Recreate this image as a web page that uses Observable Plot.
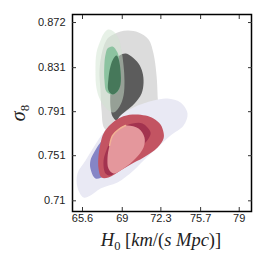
<!DOCTYPE html>
<html><head><meta charset="utf-8">
<script src="https://cdn.jsdelivr.net/npm/d3@7"></script>
<script src="https://cdn.jsdelivr.net/npm/@observablehq/plot@0.6"></script>
<style>body{margin:0;background:#fff}</style>
</head><body><div id="chart"></div>
<script>
// tick labels
const xTicks = [65.6, 69, 72.3, 75.7, 79];
const yTicks = [0.71, 0.751, 0.791, 0.831, 0.872];

// contour outlines [H0, sigma8]
const grayOuter = [[68.25,0.8611],[68.85,0.8638],[69.53,0.8647],[70.39,0.8629],[71.25,0.8566],[71.67,0.8438],[71.93,0.8238],[72.02,0.8057],[72.02,0.7920],[71.42,0.7848],[69.71,0.7784],[68.17,0.7721],[67.48,0.7757],[67.23,0.7920],[67.14,0.8102],[67.05,0.8284],[67.31,0.8466],[67.74,0.8575]];
const lavenderOuter = [[65.69,0.7130],[65.17,0.7221],[65.17,0.7348],[65.86,0.7466],[66.54,0.7584],[67.40,0.7721],[68.59,0.7857],[69.96,0.7948],[71.67,0.8011],[72.87,0.8029],[73.98,0.7993],[74.58,0.7893],[74.24,0.7784],[73.13,0.7693],[72.02,0.7584],[70.82,0.7466],[69.96,0.7375],[68.59,0.7266],[67.14,0.7212],[66.28,0.7148]];
const grayInner = [[69.28,0.8438],[69.79,0.8411],[70.39,0.8347],[70.73,0.8266],[70.82,0.8175],[70.65,0.8075],[70.05,0.7984],[69.36,0.7920],[68.77,0.7866],[68.51,0.7830],[68.17,0.7866],[67.99,0.7957],[67.99,0.8102],[68.08,0.8238],[68.34,0.8357],[68.77,0.8420]];
const greenOuter = [[67.82,0.8656],[68.25,0.8638],[68.68,0.8575],[68.94,0.8466],[69.11,0.8329],[69.19,0.8193],[69.11,0.8057],[68.77,0.7957],[68.25,0.7902],[67.65,0.7939],[67.14,0.8011],[66.80,0.8120],[66.71,0.8284],[66.80,0.8447],[67.14,0.8556],[67.48,0.8629]];
const greenInner = [[67.74,0.8484],[68.17,0.8502],[68.59,0.8447],[68.77,0.8357],[68.85,0.8211],[68.68,0.8102],[68.17,0.8066],[67.65,0.8093],[67.48,0.8193],[67.48,0.8357],[67.57,0.8429]];
const greenGrayOverlap = [[68.51,0.8420],[68.68,0.8393],[68.85,0.8284],[68.85,0.8157],[68.59,0.8093],[68.17,0.8066],[67.82,0.8102],[67.82,0.8211],[67.99,0.8320],[68.25,0.8393]];
const blueInner = [[66.54,0.7530],[67.14,0.7630],[68.42,0.7757],[70.13,0.7830],[71.42,0.7811],[71.84,0.7693],[70.99,0.7557],[69.28,0.7439],[67.57,0.7330],[66.71,0.7303],[66.28,0.7393],[66.28,0.7466]];
const redOuter = [[67.40,0.7711],[67.99,0.7793],[68.85,0.7857],[69.88,0.7884],[70.99,0.7875],[71.67,0.7848],[72.27,0.7793],[72.53,0.7721],[72.53,0.7666],[72.02,0.7584],[70.82,0.7493],[69.71,0.7430],[68.85,0.7375],[67.82,0.7312],[67.23,0.7312],[66.97,0.7393],[66.97,0.7512],[67.14,0.7621]];
const redInner = [[69.02,0.7766],[69.88,0.7802],[70.73,0.7802],[71.42,0.7721],[71.25,0.7666],[70.73,0.7602],[69.53,0.7466],[68.85,0.7403],[67.99,0.7330],[67.57,0.7348],[67.40,0.7466],[67.74,0.7584],[68.25,0.7693]];
const pinkInner = [[68.17,0.7693],[68.68,0.7748],[69.28,0.7784],[70.39,0.7757],[70.90,0.7675],[70.82,0.7584],[70.13,0.7484],[69.11,0.7393],[68.25,0.7348],[67.82,0.7393],[67.74,0.7493],[67.91,0.7602]];
const peachEdge = [[67.91,0.7602],[68.17,0.7693],[68.68,0.7748],[69.28,0.7784]];

const poly = (data, fill, opacity = 1) =>
  Plot.line(data, {x: d => d[0], y: d => d[1], fill, fillOpacity: opacity, stroke: "none", curve: "catmull-rom-closed"});

const plot = Plot.plot({
  width: 266, height: 266,
  marginLeft: 72, marginRight: 15, marginTop: 14, marginBottom: 55,
  x: {domain: [64.745, 80.05]},
  y: {domain: [0.7003, 0.8793]},
  style: {fontFamily: "'Liberation Sans', Arial, sans-serif", fontSize: "11px", color: "#222", background: "white"},
  marks: [
    poly(grayOuter, "#dcdcdc"),
    poly(lavenderOuter, "#e9e9f4"),
    poly(grayInner, "#5c5c5c"),
    poly(greenOuter, "#d0e4d0", 0.5),
    poly(greenInner, "#8cc3a0"),
    poly(greenGrayOverlap, "#46785a"),
    poly(blueInner, "#8585c6"),
    poly(redOuter, "#c35462"),
    poly(redInner, "#a3334f"),
    poly(pinkInner, "#e4979c"),
    Plot.line(peachEdge, {x: d => d[0], y: d => d[1], stroke: "#f2b394", strokeWidth: 1.5, curve: "catmull-rom"}),
    Plot.frame({stroke: "#000", strokeWidth: 1.5}),
    Plot.axisX({ticks: xTicks, anchor: "bottom", tickSize: -4, tickPadding: 7, tickFormat: d => String(d), label: null, stroke: "#333"}),
    Plot.axisX({ticks: xTicks, anchor: "top", tickSize: -4, tickFormat: () => "", label: null, stroke: "#333"}),
    Plot.axisY({ticks: yTicks, anchor: "left", tickSize: -4, tickPadding: 11, tickFormat: d => String(d), label: null, stroke: "#333"}),
    Plot.axisY({ticks: yTicks, anchor: "right", tickSize: -4, tickFormat: () => "", label: null, stroke: "#333"})
  ]
});
document.getElementById("chart").appendChild(plot);

const svg = d3.select(plot);
const serif = "'Liberation Serif', 'DejaVu Serif', serif";
const xl = svg.append("text").attr("x", 161).attr("y", 246).attr("text-anchor", "middle")
  .style("font-family", serif).style("font-size", "18.5px").attr("fill", "#222");
xl.append("tspan").attr("font-style", "italic").text("H");
xl.append("tspan").attr("font-size", "12.5px").attr("dy", 3.5).text("0");
xl.append("tspan").attr("dy", -3.5).text(" [");
xl.append("tspan").attr("font-style", "italic").text("km");
xl.append("tspan").text("/(");
xl.append("tspan").attr("font-style", "italic").text("s Mpc");
xl.append("tspan").text(")]");

const yl = svg.append("text").attr("transform", "translate(25,113) rotate(-90)").attr("text-anchor", "middle")
  .style("font-family", serif).style("font-size", "20px").attr("fill", "#222");
yl.append("tspan").attr("font-style", "italic").text("σ");
yl.append("tspan").attr("font-size", "13px").attr("dy", 4).text("8");
</script>
</body></html>
